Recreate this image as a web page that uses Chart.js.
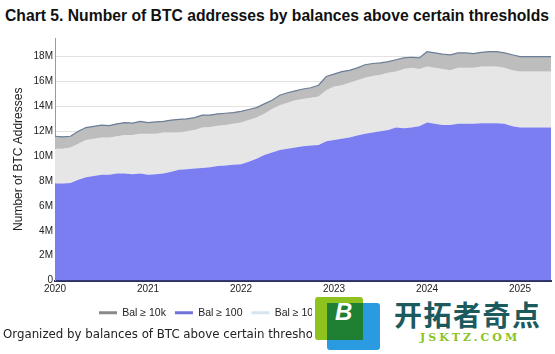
<!DOCTYPE html>
<html>
<head>
<meta charset="utf-8">
<script src="https://cdn.jsdelivr.net/npm/chart.js@4.4.1/dist/chart.umd.min.js"></script>
<style>
  html, body { margin: 0; padding: 0; background: #fff; }
  body { width: 555px; height: 354px; position: relative; overflow: hidden; font-family: "Liberation Sans", Arial, sans-serif; }
  #title { position: absolute; left: 5px; top: 7px; font-size: 15.7px; font-weight: bold; color: #111; white-space: nowrap; }
  #wrap { position: absolute; left: 0; top: 28px; width: 555px; height: 300px; }
  #note { position: absolute; left: 3px; top: 327px; font-family: "DejaVu Sans", Verdana, sans-serif; font-size: 11.8px; color: #222; white-space: nowrap; }
  #logo { position: absolute; left: 312px; top: 294px; width: 243px; height: 60px; background: #fff; }
  .sq1 { position: absolute; left: 3px; top: 3px; width: 48px; height: 43px; background: #8dc21f; border-radius: 3px; }
  .sq2 { position: absolute; left: 15px; top: 9px; width: 53px; height: 47px; background: #2a9be0; border-radius: 3px; }
  .sq3 { position: absolute; left: 15px; top: 9px; width: 36px; height: 37px; background: #1f7f32; }
  .bee { position: absolute; left: 23px; top: 4px; font: italic bold 24px "Liberation Sans", Arial, sans-serif; color: #fff; }
  .cn { position: absolute; left: 82px; top: 5px; font: bold 28px "Noto Sans CJK SC", sans-serif; color: #1d5a5e; line-height: 30px; letter-spacing: 1.5px; }
  .en { position: absolute; left: 108px; top: 37px; font: bold 11px "DejaVu Serif", serif; color: #8cc31e; letter-spacing: 3px; }
</style>
</head>
<body>
<div id="title">Chart 5. Number of BTC addresses by balances above certain thresholds</div>
<div id="wrap"><canvas id="chart"></canvas></div>
<div id="note">Organized by balances of BTC above certain thresholds</div>
<div id="logo">
  <div class="sq1"></div><div class="sq2"></div><div class="sq3"></div>
  <div class="bee">B</div>
  <div class="cn">开拓者奇点</div>
  <div class="en">JSKTZ.COM</div>
</div>
<script>
// monthly points, Jan 2020 .. May 2025
const months = [
  "2020-01","2020-02","2020-03","2020-04","2020-05","2020-06","2020-07","2020-08","2020-09","2020-10","2020-11","2020-12",
  "2021-01","2021-02","2021-03","2021-04","2021-05","2021-06","2021-07","2021-08","2021-09","2021-10","2021-11","2021-12",
  "2022-01","2022-02","2022-03","2022-04","2022-05","2022-06","2022-07","2022-08","2022-09","2022-10","2022-11","2022-12",
  "2023-01","2023-02","2023-03","2023-04","2023-05","2023-06","2023-07","2023-08","2023-09","2023-10","2023-11","2023-12",
  "2024-01","2024-02","2024-03","2024-04","2024-05","2024-06","2024-07","2024-08","2024-09","2024-10","2024-11","2024-12",
  "2025-01","2025-02","2025-03","2025-04","2025-05"
];

// values in millions of addresses
const bal10k = [
  11.6,11.55,11.6,12.0,12.3,12.4,12.5,12.45,12.6,12.7,12.65,12.8,
  12.7,12.75,12.8,12.9,12.95,13.0,13.1,13.3,13.3,13.4,13.45,13.5,
  13.6,13.75,13.9,14.2,14.5,14.9,15.1,15.25,15.4,15.5,15.7,16.4,
  16.6,16.8,16.9,17.1,17.35,17.45,17.5,17.6,17.75,17.9,17.95,17.9,
  18.4,18.3,18.2,18.15,18.3,18.3,18.25,18.35,18.4,18.4,18.3,18.15,
  18.0,18.0,18.0,18.0,18.0
];
const bal10 = [
  10.6,10.6,10.7,11.0,11.3,11.4,11.5,11.5,11.6,11.7,11.7,11.8,
  11.8,11.8,11.9,11.9,11.9,12.0,12.1,12.3,12.35,12.45,12.5,12.6,
  12.7,12.9,13.1,13.4,13.8,14.1,14.3,14.5,14.6,14.7,14.8,15.3,
  15.6,15.7,15.9,16.1,16.3,16.45,16.55,16.7,16.8,17.0,17.1,17.0,
  17.2,17.1,17.0,16.9,17.1,17.1,17.1,17.2,17.2,17.2,17.1,16.9,
  16.8,16.8,16.8,16.8,16.8
];
const bal100 = [
  7.8,7.8,7.85,8.1,8.3,8.4,8.5,8.5,8.6,8.6,8.55,8.6,
  8.5,8.55,8.6,8.75,8.9,8.95,9.0,9.05,9.1,9.2,9.25,9.3,
  9.35,9.55,9.8,10.1,10.3,10.5,10.6,10.7,10.8,10.85,10.9,11.2,
  11.3,11.4,11.5,11.65,11.8,11.9,12.0,12.1,12.3,12.25,12.3,12.4,
  12.7,12.6,12.5,12.5,12.6,12.6,12.6,12.65,12.65,12.65,12.6,12.4,
  12.3,12.3,12.3,12.3,12.3
];
const yTicks = [0, 2, 4, 6, 8, 10, 12, 14, 16, 18];
const legendColors = ["#8a8a8a", "#6f72d6", "#d5e6f0"];

const narrow = "'Liberation Sans Narrow', 'Liberation Sans', Arial";
const tickFont = { family: narrow, size: 10 };

// the legend sits left of centre in the source
const legendShift = {
  id: "legendShift",
  afterLayout(chart) {
    chart.legend.left += 90;
    chart.legend.right += 90;
  },
};

new Chart(document.getElementById("chart"), {
  type: "line",
  data: {
    labels: months,
    datasets: [
      { label: "Bal \u2265 10k", data: bal10k, fill: 2, backgroundColor: "#bdbdbd",
        borderColor: "#6c7d98", borderWidth: 1.2, pointRadius: 0, tension: 0 },
      { label: "Bal \u2265 100", data: bal100, fill: "origin", backgroundColor: "#7b7ef0",
        borderColor: "#7b7ef0", borderWidth: 0, pointRadius: 0, tension: 0 },
      { label: "Bal \u2265 10", data: bal10, fill: 1, backgroundColor: "#e6e6e6",
        borderColor: "#e6e6e6", borderWidth: 0, pointRadius: 0, tension: 0 },
    ],
  },
  options: {
    responsive: true,
    maintainAspectRatio: false,
    animation: false,
    layout: { padding: { top: 10, right: 4, left: 0, bottom: 0 } },
    scales: {
      x: {
        type: "category",
        offset: false,
        grid: { display: false, drawTicks: false },
        border: { color: "#2b2f63", width: 2 },
        ticks: {
          autoSkip: false, maxRotation: 0, padding: 3, color: "#222", font: tickFont,
          callback: (v, i) => months[i].endsWith("-01") ? months[i].slice(0, 4) : null,
        },
      },
      y: {
        min: 0, max: 19.5,
        afterBuildTicks: (s) => { s.ticks = yTicks.map((v) => ({ value: v })); },
        afterFit: (s) => { s.width = 55; },
        grid: { color: "#e2e2e2", drawTicks: false },
        border: { color: "#9a9a9a", width: 1 },
        ticks: { padding: 2, color: "#222", font: tickFont, callback: (v) => v === 0 ? "0" : v + "M" },
        title: { display: true, text: "Number of BTC Addresses", color: "#222",
          font: { family: narrow, size: 12 }, padding: { top: 11, bottom: 4 } },
      },
    },
    plugins: {
      tooltip: { enabled: false },
      legend: {
        position: "bottom",
        align: "start",
        labels: {
          usePointStyle: true, pointStyle: "line", pointStyleWidth: 18, boxHeight: 10,
          color: "#222", padding: 9,
          font: { family: narrow, size: 10.5 },
          generateLabels: (chart) => chart.data.datasets.map((d, i) => ({
            text: d.label, datasetIndex: i, pointStyle: "line",
            strokeStyle: legendColors[i], fillStyle: legendColors[i], lineWidth: 3, fontColor: "#222",
          })),
        },
      },
    },
  },
  plugins: [legendShift],
});
</script>
</body>
</html>
